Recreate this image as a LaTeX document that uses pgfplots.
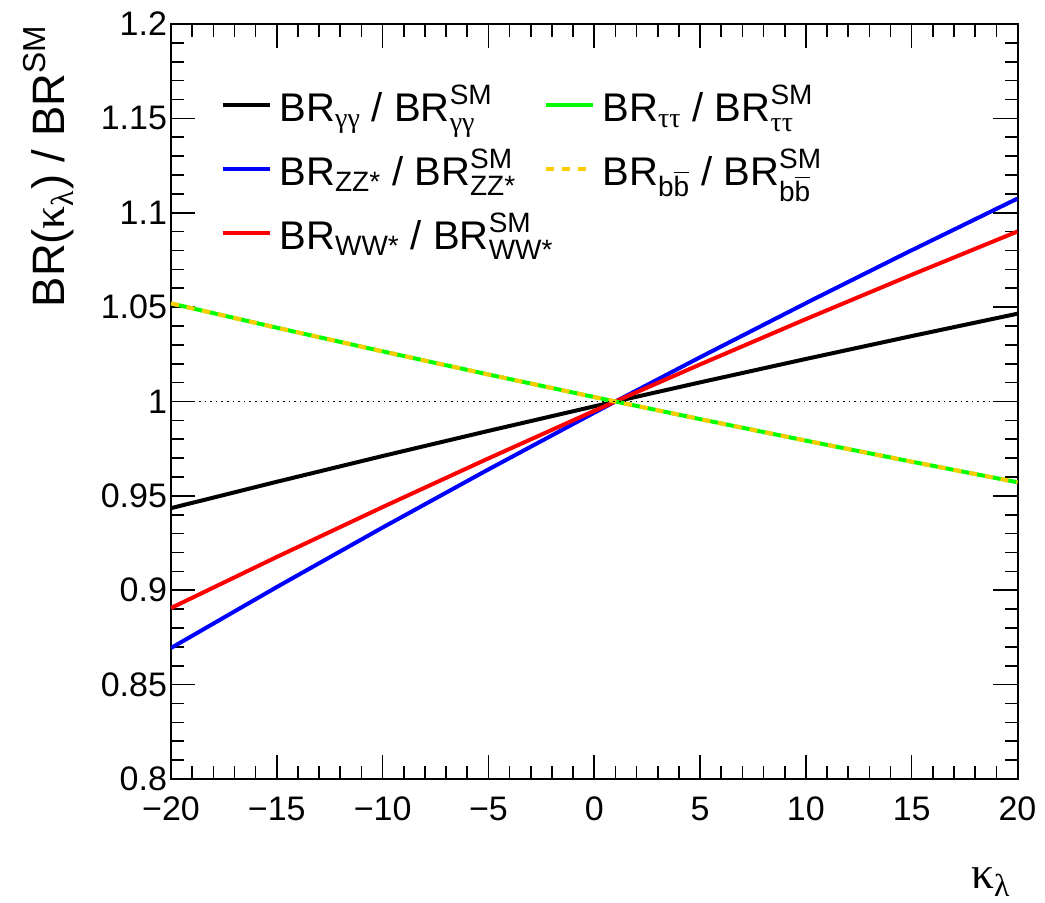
\documentclass[border=0pt]{standalone}
\usepackage{amsmath}
\usepackage{fontspec}
\setmainfont{Liberation Sans}
\newfontfamily\grk{Liberation Serif}
\usepackage{pgfplots}
\pgfplotsset{compat=1.18}

\definecolor{rootgreen}{RGB}{0,255,0}
\definecolor{rootorange}{RGB}{255,204,0}

% BR ratios as a function of kappa_lambda
\pgfplotstableread{
k    gg      zz      ww      ff
-20  0.94349 0.86940 0.89058 1.05196
-15  0.95747 0.90171 0.91765 1.03910
-10  0.97112 0.93324 0.94407 1.02656
-5   0.98443 0.96402 0.96986 1.01431
0    0.99744 0.99407 0.99504 1.00236
1    1.00000 1.00000 1.00000 1.00000
5    1.01014 1.02343 1.01963 0.99068
10   1.02254 1.05210 1.04365 0.97927
15   1.03467 1.08013 1.06713 0.96812
20   1.04652 1.10752 1.09008 0.95722
}\brtable

\newcommand{\gr}[1]{\text{\grk #1}}

\begin{document}
\begin{tikzpicture}
\useasboundingbox (-85.5pt,-61.5pt) rectangle (437pt,389.5pt);
\begin{axis}[
  at={(0pt,0pt)}, anchor=south west,
  scale only axis, width=423.25pt, height=377.5pt,
  xmin=-20, xmax=20, ymin=0.8, ymax=1.2,
  xtick={-20,-15,-10,-5,0,5,10,15,20},
  xticklabels={−20,−15,−10,−5,0,5,10,15,20},
  ytick={0.8,0.85,0.9,0.95,1,1.05,1.1,1.15,1.2},
  yticklabels={0.8,0.85,0.9,0.95,1,1.05,1.1,1.15,1.2},
  minor x tick num=4, minor y tick num=4,
  tick align=inside,
  major tick length=12pt, minor tick length=6.3pt,
  axis line style={line width=1pt},
  every tick/.style={black, line width=0.8pt},
  tick label style={font=\fontsize{17}{20}\selectfont},
  xticklabel style={yshift=-5.5pt},
  yticklabel style={xshift=1.5pt},
  xlabel={$\gr{κ}_{\gr{λ}}$},
  ylabel={$\text{BR(}\gr{κ}_{\gr{λ}}\text{) / BR}^{\text{SM}}$},
  label style={font=\fontsize{22.7}{27}\selectfont},
  xlabel style={at={([yshift=-54.5pt]axis description cs:1,0)}, anchor=base east},
  ylabel style={at={([xshift=-53pt,yshift=3pt]axis description cs:0,1)}, anchor=base east},
  legend columns=3, transpose legend,
  legend cell align=left,
  legend image code/.code={\draw[#1] (0pt,0pt) -- (23.5pt,0pt);},
  legend style={at={(axis description cs:0.051,0.93)}, anchor=north west,
    draw=none, fill=none, font=\fontsize{20}{24}\selectfont,
    row sep=8.5pt,
    /tikz/every odd column/.append style={column sep=2pt},
    /tikz/every even column/.append style={column sep=-7pt}},
]
\addplot[black, line width=2pt] table[x=k, y=gg] {\brtable};
\addlegendentry{$\text{BR}_{\gr{γγ}}\text{ / }\text{BR}^{\text{SM}}_{\gr{γγ}}$}
\addplot[blue, line width=2pt] table[x=k, y=zz] {\brtable};
\addlegendentry{$\text{BR}_{\text{ZZ*}}\text{ / }\text{BR}^{\text{SM}}_{\text{ZZ*}}$}
\addplot[red, line width=2pt] table[x=k, y=ww] {\brtable};
\addlegendentry{$\text{BR}_{\text{WW*}}\text{ / }\text{BR}^{\text{SM}}_{\text{WW*}}$}
\addplot[rootgreen, line width=2pt] table[x=k, y=ff] {\brtable};
\addlegendentry{$\text{BR}_{\gr{ττ}}\text{ / }\text{BR}^{\text{SM}}_{\gr{ττ}}$}
\addplot[rootorange, line width=2pt, dash pattern=on 4pt off 4pt] table[x=k, y=ff] {\brtable};
\addlegendentry{$\text{BR}_{\text{b}\overline{\text{b}}}\text{ / }\text{BR}^{\text{SM}}_{\text{b}\overline{\text{b}}}$}
% reference line at unity
\addplot[black, line width=0.6pt, dash pattern=on 0.8pt off 2pt, forget plot] coordinates {(-20,1) (20,1)};
\end{axis}
\end{tikzpicture}
\end{document}
